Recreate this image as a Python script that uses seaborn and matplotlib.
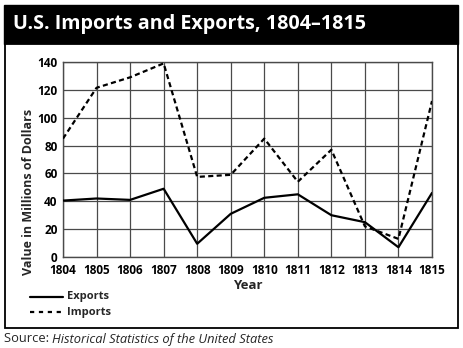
import matplotlib
matplotlib.use("Agg")
import matplotlib.pyplot as plt
import seaborn as sns
import pandas as pd
from matplotlib.patches import Rectangle
from matplotlib.lines import Line2D

years = [1804, 1805, 1806, 1807, 1808, 1809, 1810, 1811, 1812, 1813, 1814, 1815]
exports = [40.5, 42, 41, 49, 9.5, 31, 42.5, 45, 30, 25, 7, 46]
imports = [85, 121.5, 129, 139, 57.5, 59, 85, 54, 77, 22, 13, 112]
y_ticks = [0, 20, 40, 60, 80, 100, 120, 140]

df = pd.DataFrame({"Year": years, "Exports": exports, "Imports": imports})
long = df.melt(id_vars="Year", var_name="Series", value_name="Value")

sns.set_theme(style="white")
plt.rcParams["font.family"] = ["Open Sans", "DejaVu Sans"]

W, H = 463, 348
fig = plt.figure(figsize=(W / 100, H / 100), dpi=100)

def fx(px):
    return px / W

def fy(py):
    return 1 - py / H

DASH = (2.3, 1.5)

# Title bar and framed panel
fig.patches.append(Rectangle((fx(4), fy(44)), fx(454), 39 / H, transform=fig.transFigure,
                             facecolor="black", edgecolor="black", zorder=-2))
fig.patches.append(Rectangle((fx(4.5), fy(328)), fx(453), 284 / H, transform=fig.transFigure,
                             facecolor="white", edgecolor="black", linewidth=1.3, zorder=-2))
fig.text(fx(13), fy(24.5), "U.S. Imports and Exports, 1804\u20131815", color="white",
         fontsize=14.2, fontweight="bold", ha="left", va="center")

ax = fig.add_axes([fx(63), fy(257), fx(432 - 63), (257 - 62) / H])
ax.set_zorder(2)
sns.lineplot(data=long, x="Year", y="Value", style="Series", hue="Series",
             palette={"Exports": "black", "Imports": "black"},
             dashes={"Exports": "", "Imports": DASH},
             linewidth=1.6, ax=ax, legend=False, zorder=3)

ax.set_xlim(years[0], years[-1])
ax.set_ylim(0, 140)
ax.set_xticks(years)
ax.set_yticks(y_ticks)
ax.grid(True, color="#4a4a4a", linewidth=0.9)
for s in ax.spines.values():
    s.set_color("#4a4a4a")
    s.set_linewidth(1.0)
ax.tick_params(axis="both", length=0, labelsize=8.5, labelcolor="black")
ax.tick_params(axis="x", pad=5)
ax.tick_params(axis="y", pad=4)
for lab in ax.get_xticklabels() + ax.get_yticklabels():
    lab.set_fontweight("bold")
ax.set_xlabel("")
ax.set_ylabel("")
fig.text(fx(247.5), fy(285.5), "Year", fontsize=9.5, fontweight="bold", ha="center", va="center")
fig.text(fx(29), fy(192), "Value in Millions of Dollars", fontsize=9, fontweight="bold",
         rotation=90, ha="center", va="center")

# Legend drawn under the axes
fig.lines.append(Line2D([fx(30), fx(63)], [fy(297), fy(297)], transform=fig.transFigure,
                        color="black", linewidth=1.6))
fig.lines.append(Line2D([fx(30), fx(63)], [fy(312), fy(312)], transform=fig.transFigure,
                        color="black", linewidth=1.6, dashes=(1.9, 2.1)))
fig.text(fx(67), fy(297), "Exports", fontsize=8, fontweight="bold", ha="left", va="center")
fig.text(fx(67), fy(312), "Imports", fontsize=8, fontweight="bold", ha="left", va="center")

src = fig.text(fx(4), fy(339), "Source: ", fontsize=9.3, ha="left", va="center")
fig.canvas.draw()
bb = src.get_window_extent()
fig.text(bb.x1 / W, fy(339), "Historical Statistics of the United States", fontsize=9.3,
         style="italic", ha="left", va="center")

fig.savefig("out.png", dpi=100)
